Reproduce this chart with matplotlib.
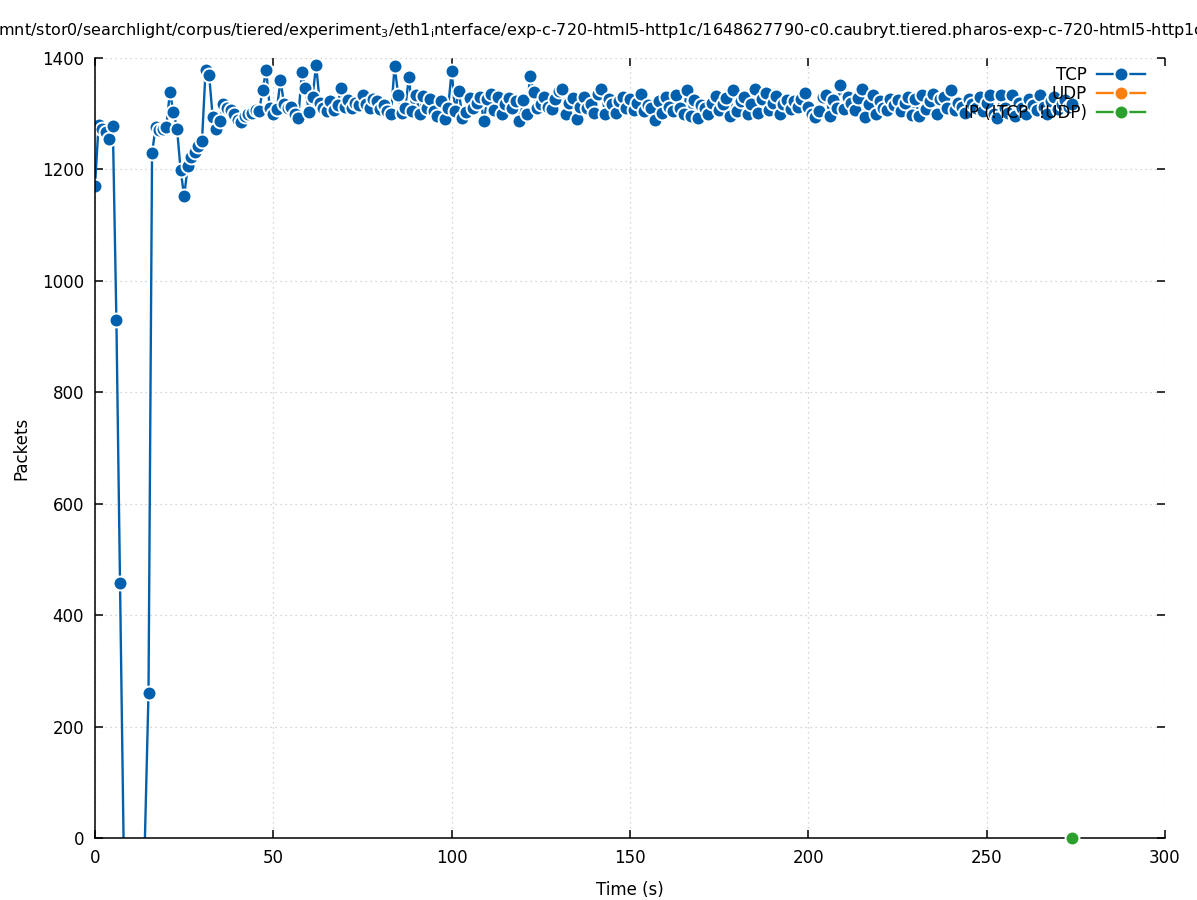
import numpy as np
import matplotlib
matplotlib.use("Agg")
import matplotlib.pyplot as plt

# Packets per second (t = 0 .. 274 s)
tcp_packets = [
    1170, 1280, 1272, 1268, 1255, 1278, 929, 458, 0, None,
    None, None, None, None, 0, 260, 1230, 1276, 1270, 1272,
    1276, 1339, 1303, 1273, 1199, 1152, 1206, 1222, 1232, 1242,
    1251, 1378, 1369, 1294, 1273, 1287, 1318, 1310, 1307, 1300,
    1289, 1286, 1296, 1300, 1302, 1306, 1304, 1343, 1378, 1310,
    1300, 1308, 1360, 1318, 1310, 1312, 1300, 1292, 1375, 1346,
    1303, 1330, 1388, 1320, 1310, 1305, 1323, 1306, 1316, 1346,
    1312, 1325, 1310, 1320, 1315, 1333, 1318, 1310, 1326, 1322,
    1308, 1316, 1304, 1299, 1386, 1334, 1302, 1310, 1366, 1305,
    1334, 1300, 1332, 1310, 1326, 1304, 1296, 1322, 1291, 1310,
    1377, 1305, 1341, 1293, 1303, 1328, 1310, 1320, 1330, 1287,
    1326, 1336, 1306, 1330, 1300, 1318, 1328, 1310, 1322, 1287,
    1325, 1300, 1368, 1339, 1310, 1318, 1330, 1312, 1308, 1326,
    1340, 1344, 1300, 1320, 1328, 1291, 1312, 1330, 1310, 1318,
    1302, 1335, 1344, 1300, 1326, 1318, 1301, 1322, 1330, 1310,
    1326, 1306, 1320, 1336, 1304, 1316, 1310, 1289, 1322, 1302,
    1330, 1312, 1305, 1334, 1310, 1300, 1343, 1296, 1325, 1292,
    1316, 1310, 1300, 1320, 1332, 1306, 1318, 1328, 1296, 1343,
    1305, 1322, 1330, 1300, 1318, 1344, 1302, 1326, 1338, 1306,
    1320, 1332, 1300, 1318, 1325, 1308, 1322, 1312, 1326, 1337,
    1312, 1300, 1294, 1305, 1330, 1334, 1296, 1325, 1310, 1352,
    1308, 1330, 1320, 1306, 1328, 1344, 1294, 1318, 1334, 1300,
    1322, 1310, 1306, 1326, 1316, 1324, 1304, 1320, 1330, 1298,
    1326, 1296, 1334, 1309, 1322, 1336, 1300, 1326, 1330, 1310,
    1343, 1306, 1320, 1312, 1302, 1326, 1318, 1310, 1330, 1304,
    1320, 1333, 1300, 1292, 1333, 1310, 1302, 1333, 1296, 1320,
    1310, 1300, 1326, 1315, 1306, 1333, 1312, 1300, 1322, 1330,
    1308, 1318, 1325, 1312, 1318,
]
tcp_time = list(range(len(tcp_packets)))

udp_time = []
udp_packets = []

ip_time = [274]
ip_packets = [0]

series_labels = ["TCP", "UDP", "IP (!TCP  !UDP)"]
series_colors = ["#0060ad", "#ff7f0e", "#2ca02c"]

x_ticks = [0, 50, 100, 150, 200, 250, 300]
y_ticks = [0, 200, 400, 600, 800, 1000, 1200, 1400]

title_text = (r"/mnt/stor0/searchlight/corpus/tiered/experiment$_3$/eth1$_\mathrm{i}$nterface/"
              r"exp-c-720-html5-http1c/1648627790-c0.caubryt.tiered.pharos-exp-c-720-html5-http1c")


def main():
    plt.rcParams["font.family"] = ["DejaVu Sans"]
    plt.rcParams["font.size"] = 12

    fig = plt.figure(figsize=(11.97, 9.0), dpi=100)
    ax = fig.add_axes([95 / 1197, 62 / 900, 1070 / 1197, 780 / 900])

    style = dict(marker="o", markersize=10, markeredgecolor="white",
                 markeredgewidth=1.4, linewidth=1.7)

    # TCP: markers only where packets were actually seen
    tcp = np.array([np.nan if v is None else v for v in tcp_packets], dtype=float)
    has_pts = np.nan_to_num(tcp) > 0
    ax.plot(tcp_time, tcp, color=series_colors[0], markevery=list(np.where(has_pts)[0]),
            label=series_labels[0], **style)
    ax.plot(udp_time, udp_packets, color=series_colors[1], label=series_labels[1], **style)
    ax.plot(ip_time, ip_packets, color=series_colors[2], label=series_labels[2],
            clip_on=False, zorder=4, **style)

    ax.set_xlim(0, 300)
    ax.set_ylim(0, 1400)
    ax.set_xticks(x_ticks)
    ax.set_yticks(y_ticks)

    # gnuplot look: border on left/bottom only, ticks mirrored inward
    ax.spines["top"].set_visible(False)
    ax.spines["right"].set_visible(False)
    ax.spines["left"].set_linewidth(1.1)
    ax.spines["bottom"].set_linewidth(1.1)
    ax.tick_params(direction="in", length=6, width=1.1, top=True, right=True,
                   labelsize=12, pad=8)
    ax.grid(True, linestyle=(0, (1, 3)), color="#c8c8c8", linewidth=0.9)
    ax.set_axisbelow(True)

    ax.set_xlabel("Time (s)", fontsize=12, labelpad=10)
    ax.set_ylabel("Packets", fontsize=12, labelpad=8)

    fig.text(0.5, 1 - 30 / 900, title_text, ha="center", va="center", fontsize=11.5)

    leg = ax.legend(loc="upper right", bbox_to_anchor=(1.0, 1.0154), frameon=False,
                    markerfirst=False, handlelength=2.9, handletextpad=0.6,
                    labelspacing=0.07, borderaxespad=0.7, borderpad=0.5, fontsize=12)
    leg.set_zorder(10)

    fig.savefig("out.png", dpi=100)


if __name__ == "__main__":
    main()
